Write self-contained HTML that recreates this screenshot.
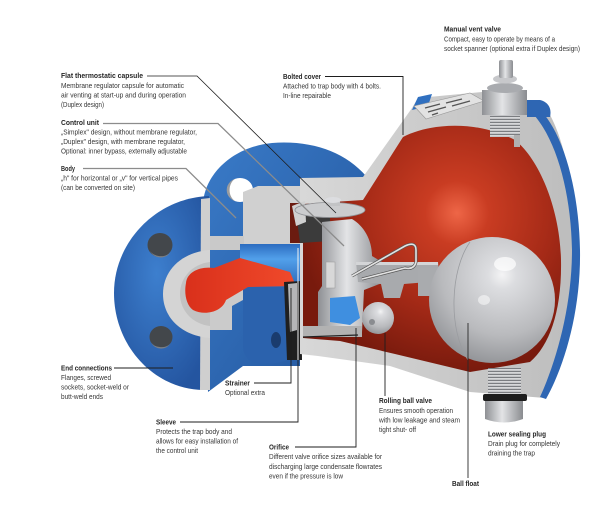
<!DOCTYPE html>
<html><head><meta charset="utf-8"><style>
html,body{margin:0;padding:0;background:#fff;}
svg{display:block}
text{font-family:"Liberation Sans",sans-serif;}
.t{font-weight:bold;font-size:7.6px;fill:#262626}
.b{font-size:7.4px;fill:#363636}
</style></head><body>
<svg width="609" height="507" viewBox="0 0 609 507" xmlns="http://www.w3.org/2000/svg">
<defs>
<linearGradient id="blueG" x1="0" y1="0" x2="1" y2="1">
 <stop offset="0" stop-color="#3a7bc8"/><stop offset="1" stop-color="#21539a"/>
</linearGradient>
<radialGradient id="flG" cx="0.45" cy="0.4" r="0.65">
 <stop offset="0" stop-color="#3d7fce"/><stop offset="1" stop-color="#2455a0"/>
</radialGradient>
<radialGradient id="redG" cx="457" cy="213" r="160" gradientUnits="userSpaceOnUse">
 <stop offset="0" stop-color="#ee6647"/><stop offset="0.2" stop-color="#c93c22"/><stop offset="0.6" stop-color="#a52a17"/><stop offset="1" stop-color="#781a0d"/>
</radialGradient>
<radialGradient id="ballG" cx="0.58" cy="0.3" r="0.8">
 <stop offset="0" stop-color="#f4f4f5"/><stop offset="0.14" stop-color="#dcdde0"/><stop offset="0.6" stop-color="#b9babd"/><stop offset="1" stop-color="#86888c"/>
</radialGradient>
<linearGradient id="coverG" x1="0" y1="0" x2="1" y2="0">
 <stop offset="0" stop-color="#d8d8d8"/><stop offset="1" stop-color="#bdbdbd"/>
</linearGradient>
<linearGradient id="silverH" x1="0" y1="0" x2="1" y2="0">
 <stop offset="0" stop-color="#8e9094"/><stop offset="0.45" stop-color="#e3e4e6"/><stop offset="1" stop-color="#8a8c90"/>
</linearGradient>
<linearGradient id="sleeveG" x1="0" y1="0" x2="0" y2="1">
 <stop offset="0" stop-color="#2c6cc0"/><stop offset="0.35" stop-color="#52a0ea"/><stop offset="1" stop-color="#2a66b8"/>
</linearGradient>
<linearGradient id="redIn" x1="0" y1="0" x2="1" y2="0">
 <stop offset="0" stop-color="#d9301b"/><stop offset="1" stop-color="#f04a2b"/>
</linearGradient>
<pattern id="thr" width="4" height="3" patternUnits="userSpaceOnUse">
 <rect width="4" height="3" fill="#d6d7d9"/><rect y="1.8" width="4" height="1.2" fill="#7b7d81"/>
</pattern>
</defs>

<!-- back blue body -->
<path d="M203,205 C204,175 232,147 272,143 C312,140 345,152 366,176 L366,205 L300,205 L300,366 L243,366 L208,392 Z" fill="url(#blueG)"/>
<ellipse cx="240" cy="190" rx="13" ry="12" fill="#fff"/>
<path d="M236,178.5 A13,12 0 0 0 236,201.5 A9,12 0 0 1 236,178.5 Z" fill="#9a9c9f"/>

<!-- front flange -->
<path d="M209,196 C156,198 114,242 114,293 C114,346 154,389 203,390 Z" fill="url(#flG)"/>
<ellipse cx="160" cy="245" rx="12.5" ry="12" fill="#43474b"/>
<path d="M150,251 A12,12 0 0 0 170,253 A12,9 0 0 1 150,251 Z" fill="#7b7f84"/>
<ellipse cx="161" cy="337" rx="11.5" ry="11" fill="#43474b"/>
<path d="M151,342 A11,11 0 0 0 170,344 A11,8 0 0 1 151,342 Z" fill="#7b7f84"/>
<path d="M201,199 L210,198 L210,390 L200,390 Z" fill="#cfcfcf"/>
<path d="M210,250 C182,252 163,270 163,294 C163,318 182,336 210,338 Z" fill="#d4d4d4"/>
<path d="M210,262 C192,264 180,278 180,294 C180,310 192,324 210,326 Z" fill="#c2c2c2"/>

<!-- gray cut regions -->
<path d="M243,250 L243,192 L258,186 L300,186 L300,250 Z" fill="#d0d0d0"/>
<rect x="210" y="236" width="34" height="14" fill="#c9c9c9"/>
<path d="M210,284 L243,284 L243,300 L232,306 L232,330 L210,330 Z" fill="#cbcbcb"/>
<path d="M243,284 L297,284 L297,352 C290,362 275,365 258,363 C248,362 243,355 243,345 Z" fill="#2b62ad"/>
<ellipse cx="276" cy="340" rx="5" ry="8" fill="#1a3c6e"/>

<rect x="240" y="244" width="83" height="43" fill="url(#sleeveG)"/>
<path d="M186,283 C187,272 200,266 214,268 L240,258 L290,272 L296,286 L248,287 L226,300 C222,312 205,316 193,310 C186,305 184,293 186,283 Z" fill="url(#redIn)"/>
<path d="M284,282 L301,281 L302,360 L287,360 Z" fill="#1f1f1f"/>
<path d="M288,284 L297,283 L297,330 L290,332 Z" fill="#b5b6b8"/>

<!-- cover outer gray -->
<path d="M300,178 L363,177 L412,108 L418,98 L482,92 L527,100 L540,100 C562,125 575,185 576,250 C577,305 562,360 545,398 L470,392 L390,366 L318,356 L300,354 Z" fill="url(#coverG)"/>
<path d="M527,100 C560,116 579,185 580,250 C581,310 565,365 546,399 L540,397 C557,360 572,305 572,250 C571,190 555,132 527,108 Z" fill="#2e66b3"/>
<path d="M412,110 L418,97 L432,94 L428,106 Z" fill="#3070c0"/>
<path d="M303,204 L363,200 L403,137 C430,123 477,120 515,140 C540,160 560,210 561,260 C562,310 550,345 530,362 L470,372 L395,354 L340,341 L303,338 Z" fill="url(#redG)"/>

<!-- nameplate -->
<path d="M414,106 L470,93 L484,101 L426,119 Z" fill="#e2e2e2" stroke="#9a9a9a" stroke-width="0.6"/>
<path d="M425,108 L440,104 M428,112 L446,107 M446,103 L462,99 M452,106 L470,101 M432,115 L438,113" stroke="#555" stroke-width="1.4"/>

<!-- top valve -->
<rect x="490" y="113" width="30" height="24" fill="url(#thr)"/>
<rect x="514" y="135" width="6" height="12" fill="#b0b0b0"/>
<path d="M482,90 L527,90 L527,115 L482,115 Z" fill="url(#silverH)"/>
<ellipse cx="505" cy="88" rx="18" ry="5" fill="#a9abaf"/>
<ellipse cx="505" cy="79" rx="12" ry="4.5" fill="#c7c8cb"/>
<rect x="499" y="60" width="14" height="18" rx="2" fill="url(#silverH)"/>
<path d="M540,100 C548,102 552,108 550,117 L527,117 L527,100 Z" fill="#2e66b3"/>

<!-- control unit -->
<rect x="290" y="203" width="15" height="40" fill="#6b1b10"/>
<path d="M296,212 L330,216 L330,241 L300,243 Z" fill="#3b3b3b"/>
<path d="M292,206 L305,201 L306,222 L296,226 Z" fill="#d0d0d0"/>
<path d="M322,222 L352,219 C364,226 372,240 372,256 L382,262 L382,283 L364,290 L362,332 L318,332 L318,292 L322,286 Z" fill="url(#silverH)"/>
<rect x="326" y="262" width="9" height="26" fill="#d8d8d8" stroke="#999" stroke-width="0.5"/>
<ellipse cx="330" cy="210" rx="35" ry="7.5" fill="#cbccce" stroke="#8f9195" stroke-width="0.8"/>
<rect x="326" y="200" width="14" height="6" fill="#c2c3c5"/>
<ellipse cx="333" cy="200" rx="8" ry="3" fill="#dcdde0"/>
<path d="M330,298 L355,296 L360,318 L350,325 L330,322 Z" fill="#3f8fe0"/>
<rect x="303" y="326" width="59" height="11" fill="#b2b2b2"/>
<path d="M303,337 L358,335" stroke="#222" stroke-width="1.2"/>
<path d="M356,262 L438,262 L440,281 L404,284 L400,298 L384,298 L381,284 L358,282 Z" fill="#a8aaad"/>
<path d="M356,262 L438,262 L438,265 L356,265 Z" fill="#d4d5d7"/>
<path d="M352,276 L405,246 Q416,241 416,250 L416,262 Q414,270 405,268 L362,279" fill="none" stroke="#555" stroke-width="3"/>
<path d="M352,276 L405,246 Q416,241 416,250 L416,262 Q414,270 405,268 L362,279" fill="none" stroke="#e2e2e2" stroke-width="1.6"/>
<rect x="418" y="268" width="20" height="28" fill="#a9abae"/>
<circle cx="378" cy="318" r="16" fill="url(#ballG)"/>
<circle cx="372" cy="322" r="3" fill="#8a8c90"/>

<!-- ball float -->
<circle cx="492" cy="300" r="63" fill="url(#ballG)"/>
<path d="M470,242 C450,270 448,330 468,360" fill="none" stroke="#9a9ca0" stroke-width="0.8"/>
<ellipse cx="505" cy="264" rx="11" ry="7" fill="#fff" opacity="0.7"/>
<ellipse cx="484" cy="300" rx="6" ry="5" fill="#fff" opacity="0.5"/>

<!-- bottom plug -->
<rect x="488" y="368" width="33" height="26" fill="url(#thr)"/>
<rect x="483" y="394" width="44" height="7" rx="2" fill="#1d1d1d"/>
<path d="M485,401 L523,401 L523,419 Q504,426 485,419 Z" fill="url(#silverH)"/>

<!-- leader lines -->
<g fill="none">
<polyline points="147,76 197,76 336,213" stroke="#1e1e1e" stroke-width="0.8"/>
<polyline points="103,123.5 218,123.5 344,246" stroke="#8c8c8c" stroke-width="1.3"/>
<polyline points="83,168.5 186,168.5 236,218" stroke="#8c8c8c" stroke-width="1.3"/>
<polyline points="325,76.5 403,76.5 403,135" stroke="#1e1e1e" stroke-width="0.9"/>
<polyline points="114,368 173,368" stroke="#1e1e1e" stroke-width="0.9"/>
<polyline points="254,383 291,383 291,288" stroke="#1e1e1e" stroke-width="0.9"/>
<polyline points="180,422 298,422 298,360" stroke="#1e1e1e" stroke-width="0.9"/>
<polyline points="298,360 298,248" stroke="#f2f2f2" stroke-width="1"/>
<polyline points="295,447 356,447 356,328" stroke="#1e1e1e" stroke-width="0.9"/>
<polyline points="385,396 385,333" stroke="#1e1e1e" stroke-width="0.9"/>
<polyline points="468,478 468,323" stroke="#2a2a2a" stroke-width="0.9"/>
</g>

<g>
<text class="t" x="61" y="78" textLength="82" lengthAdjust="spacingAndGlyphs">Flat thermostatic capsule</text>
<text class="b" x="61" y="88" textLength="123" lengthAdjust="spacingAndGlyphs">Membrane regulator capsule for automatic</text>
<text class="b" x="61" y="97.5" textLength="125" lengthAdjust="spacingAndGlyphs">air venting at start-up and during operation</text>
<text class="b" x="61" y="107" textLength="43" lengthAdjust="spacingAndGlyphs">(Duplex design)</text>
<text class="t" x="61" y="125" textLength="38" lengthAdjust="spacingAndGlyphs">Control unit</text>
<text class="b" x="61" y="134.5" textLength="136" lengthAdjust="spacingAndGlyphs">„Simplex" design, without membrane regulator,</text>
<text class="b" x="61" y="144" textLength="124" lengthAdjust="spacingAndGlyphs">„Duplex" design, with membrane regulator,</text>
<text class="b" x="61" y="153.5" textLength="126" lengthAdjust="spacingAndGlyphs">Optional: inner bypass, externally adjustable</text>
<text class="t" x="61" y="171" textLength="14" lengthAdjust="spacingAndGlyphs">Body</text>
<text class="b" x="61" y="180.5" textLength="117" lengthAdjust="spacingAndGlyphs">„h" for horizontal or „v" for vertical pipes</text>
<text class="b" x="61" y="190" textLength="74" lengthAdjust="spacingAndGlyphs">(can be converted on site)</text>

<text class="t" x="444" y="31.5" textLength="57" lengthAdjust="spacingAndGlyphs">Manual vent valve</text>
<text class="b" x="444" y="41.3" textLength="111" lengthAdjust="spacingAndGlyphs">Compact, easy to operate by means of a</text>
<text class="b" x="444" y="51" textLength="136" lengthAdjust="spacingAndGlyphs">socket spanner (optional extra if Duplex design)</text>

<text class="t" x="283" y="79" textLength="38" lengthAdjust="spacingAndGlyphs">Bolted cover</text>
<text class="b" x="283" y="88.5" textLength="98" lengthAdjust="spacingAndGlyphs">Attached to trap body with 4 bolts.</text>
<text class="b" x="283" y="98" textLength="48" lengthAdjust="spacingAndGlyphs">In-line repairable</text>

<text class="t" x="61" y="370.5" textLength="51" lengthAdjust="spacingAndGlyphs">End connections</text>
<text class="b" x="61" y="380" textLength="50" lengthAdjust="spacingAndGlyphs">Flanges, screwed</text>
<text class="b" x="61" y="389.5" textLength="68" lengthAdjust="spacingAndGlyphs">sockets, socket-weld or</text>
<text class="b" x="61" y="399" textLength="42" lengthAdjust="spacingAndGlyphs">butt-weld ends</text>

<text class="t" x="225" y="385.5" textLength="25" lengthAdjust="spacingAndGlyphs">Strainer</text>
<text class="b" x="225" y="395" textLength="40" lengthAdjust="spacingAndGlyphs">Optional extra</text>

<text class="t" x="156" y="424.5" textLength="20" lengthAdjust="spacingAndGlyphs">Sleeve</text>
<text class="b" x="156" y="434" textLength="76" lengthAdjust="spacingAndGlyphs">Protects the trap body and</text>
<text class="b" x="156" y="443.5" textLength="82" lengthAdjust="spacingAndGlyphs">allows for easy installation of</text>
<text class="b" x="156" y="453" textLength="42" lengthAdjust="spacingAndGlyphs">the control unit</text>

<text class="t" x="269" y="449.5" textLength="20" lengthAdjust="spacingAndGlyphs">Orifice</text>
<text class="b" x="269" y="459" textLength="113" lengthAdjust="spacingAndGlyphs">Different valve orifice sizes available for</text>
<text class="b" x="269" y="469" textLength="113" lengthAdjust="spacingAndGlyphs">discharging large condensate flowrates</text>
<text class="b" x="269" y="478.5" textLength="74" lengthAdjust="spacingAndGlyphs">even if the pressure is low</text>

<text class="t" x="379" y="403" textLength="53" lengthAdjust="spacingAndGlyphs">Rolling ball valve</text>
<text class="b" x="379" y="413" textLength="74" lengthAdjust="spacingAndGlyphs">Ensures smooth operation</text>
<text class="b" x="379" y="422.5" textLength="81" lengthAdjust="spacingAndGlyphs">with low leakage and steam</text>
<text class="b" x="379" y="432" textLength="37" lengthAdjust="spacingAndGlyphs">tight shut- off</text>

<text class="t" x="452" y="486" textLength="27" lengthAdjust="spacingAndGlyphs">Ball float</text>

<text class="t" x="488" y="436.5" textLength="58" lengthAdjust="spacingAndGlyphs">Lower sealing plug</text>
<text class="b" x="488" y="446" textLength="72" lengthAdjust="spacingAndGlyphs">Drain plug for completely</text>
<text class="b" x="488" y="455.5" textLength="47" lengthAdjust="spacingAndGlyphs">draining the trap</text>
</g>
</svg>
</body></html>
